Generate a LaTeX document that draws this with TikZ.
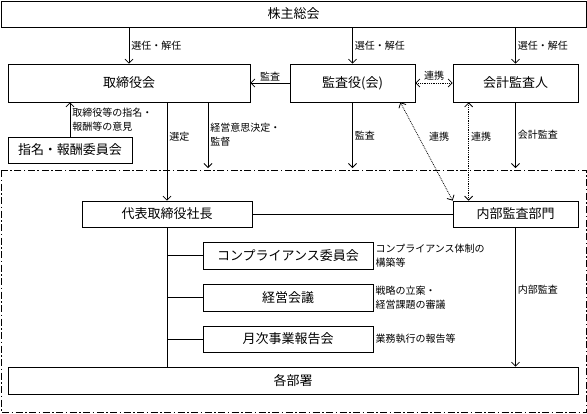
\documentclass[tikz,border=0pt]{standalone}
\usepackage{fontspec}
\setmainfont{Noto Sans CJK JP}
\usetikzlibrary{arrows.meta}

\begin{document}
\begin{tikzpicture}[x=1pt,y=-1pt,
    box/.style={draw,line width=0.7pt,inner sep=0pt,font=\fontsize{13}{15}\selectfont},
    lbl/.style={font=\fontsize{10}{14}\selectfont,align=left,inner sep=2pt},
    arr/.style={-{Straight Barb[length=4pt,width=8pt]},line width=0.8pt},
    link/.style={{Straight Barb[length=4pt,width=8pt]}-{Straight Barb[length=4pt,width=8pt]},densely dotted,line width=0.8pt},
    frame/.style={dash pattern=on 7pt off 2.5pt on 1.5pt off 2.5pt,line width=0.7pt}]
    \useasboundingbox (0,0) rectangle (587,413);
    \draw[frame] (1,170) rectangle (586,412);
    \node[box,minimum width=585,minimum height=26] (kabunushi) at (293.5,14) {株主総会};
    \node[box,minimum width=242,minimum height=38] (torishimari) at (129,83) {取締役会};
    \node[box,minimum width=125,minimum height=38] (kansayaku) at (352.5,83) {監査役(会)};
    \node[box,minimum width=125,minimum height=38] (kaikei) at (515.5,83) {会計監査人};
    \node[box,minimum width=124,minimum height=26] (shimei) at (70,150) {指名・報酬委員会};
    \node[box,minimum width=170,minimum height=26] (shacho) at (167,214) {代表取締役社長};
    \node[box,minimum width=125,minimum height=26] (naibu) at (515.5,214) {内部監査部門};
    \node[box,minimum width=170,minimum height=27] (comp) at (288,255.5) {コンプライアンス委員会};
    \node[box,minimum width=170,minimum height=27] (keiei) at (288,297.5) {経営会議};
    \node[box,minimum width=170,minimum height=26] (getsuji) at (288,339) {月次事業報告会};
    \node[box,minimum width=570,minimum height=27] (kakubusho) at (293,380.5) {各部署};
    \coordinate (kantoku) at (208,168);
    \coordinate (kansa) at (352.5,168);
    \coordinate (kaikeikansa) at (515.5,168);

    \draw[arr] (kabunushi.south -| torishimari) -- node[lbl,midway,right] {選任・解任} (torishimari.north);
    \draw[arr] (kabunushi.south -| kansayaku) -- node[lbl,midway,right] {選任・解任} (kansayaku.north);
    \draw[arr] (kabunushi.south -| kaikei) -- node[lbl,midway,right] {選任・解任} (kaikei.north);
    \draw[arr] (kansayaku.west) -- node[lbl,midway,above] {監査} (torishimari.east);
    \draw[link] (kansayaku.east) -- node[lbl,midway,above] {連携} (kaikei.west);
    \draw[arr] (shimei.north) -- node[lbl,midway,right] {取締役等の指名・\\報酬等の意見} (shimei |- torishimari.south);
    \draw[arr] (torishimari.south -| shacho) -- node[lbl,pos=0.35,right] {選定} (shacho.north);
    \draw[arr] (torishimari.south -| kantoku) -- node[lbl,midway,right] {経営意思決定・\\監督} (kantoku);
    \draw[arr] (kansayaku.south) -- node[lbl,midway,right] {監査} (kansa);
    \draw[arr] (kaikei.south) -- node[lbl,midway,right] {会計監査} (kaikeikansa);
    \draw[link] (naibu.north west) -- node[lbl,pos=0.65,right,xshift=8pt] {連携} ([xshift=-15pt]kansayaku.south east);
    \draw[link] ([xshift=16pt]naibu.north west) -- node[lbl,pos=0.65,right] {連携} ([xshift=16pt]kaikei.south west);
    \draw[line width=0.8pt] (shacho.east) -- (naibu.west);
    \draw[line width=0.8pt] (shacho.south) -- (shacho.south |- kakubusho.north);
    \foreach \n in {comp,keiei,getsuji}
        \draw[line width=0.8pt] (\n.west -| shacho) -- (\n.west);
    \node[lbl,right] (compnote) at (comp.east) {コンプライアンス体制の\\構築等};
    \node[lbl,right] (keieinote) at (keiei.east) {戦略の立案・\\経営課題の審議};
    \node[lbl,right] (getsujinote) at (getsuji.east) {業務執行の報告等};
    \draw[arr] (naibu.south) -- node[lbl,pos=0.45,right] {内部監査} (naibu.south |- kakubusho.north);
\end{tikzpicture}
\end{document}
